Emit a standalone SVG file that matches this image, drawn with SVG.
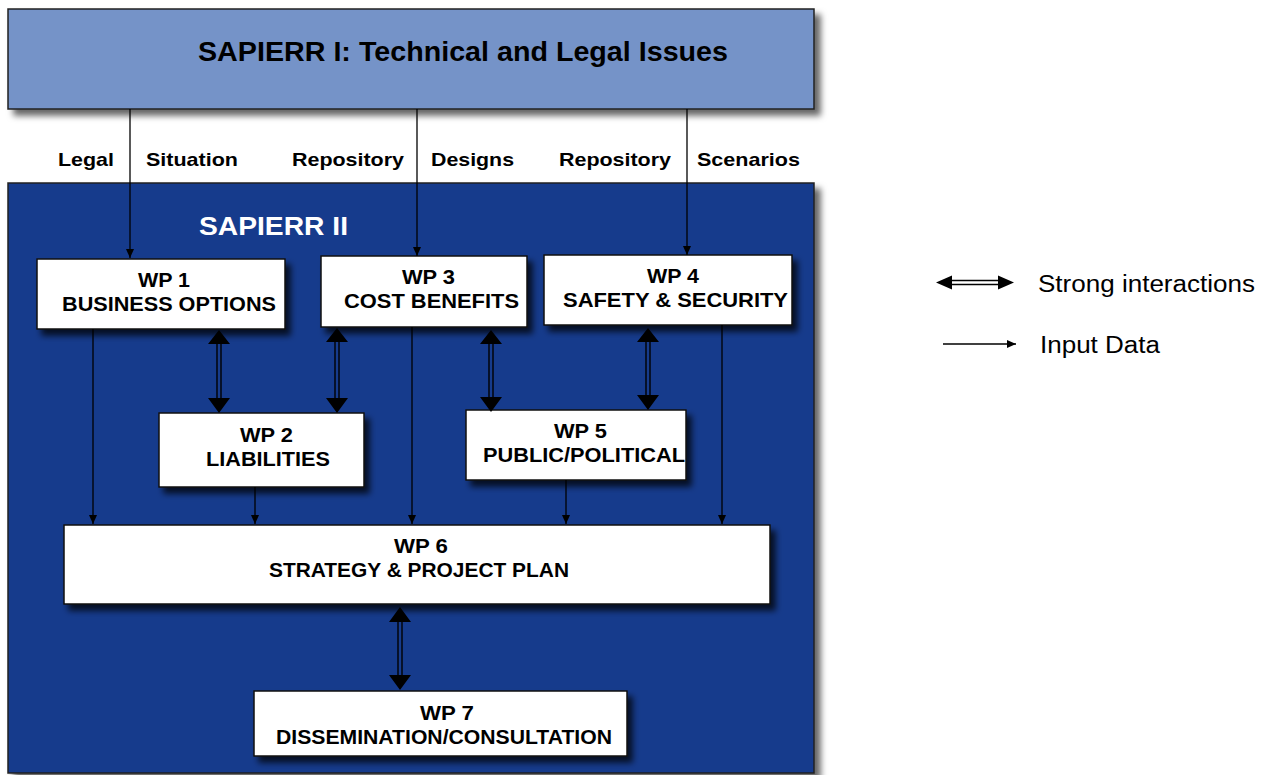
<svg xmlns="http://www.w3.org/2000/svg" width="1268" height="775" viewBox="0 0 1268 775">
<style>
.b{font-family:"Liberation Sans",Arial,sans-serif;font-weight:bold;fill:#000}
.w{fill:#fff;stroke:#111;stroke-width:1.5}
.thin{stroke:#000;stroke-width:1.3;fill:none}
.dbl{stroke:#000;stroke-width:1.4;fill:none}
.lg{font-family:"Liberation Sans",Arial,sans-serif;font-size:23px;fill:#000}
</style>
<defs>
<filter id="sh" x="-10%" y="-20%" width="130%" height="150%">
<feDropShadow dx="5" dy="6" stdDeviation="3" flood-color="#000" flood-opacity="0.75"/>
</filter>
<filter id="sh2" x="-5%" y="-5%" width="110%" height="120%">
<feDropShadow dx="6" dy="6" stdDeviation="3" flood-color="#000" flood-opacity="0.6"/>
</filter>
<marker id="ah" markerWidth="10" markerHeight="10" refX="9" refY="5" orient="auto" markerUnits="userSpaceOnUse">
<path d="M0,1 L9,5 L0,9 Z" fill="#000"/>
</marker>
</defs>
<g id="sapierr1">
<rect x="8" y="9" width="806" height="100" fill="#7593c8" stroke="#222" stroke-width="1.5" filter="url(#sh2)"/>
<text class="b" x="198" y="61" font-size="27" textLength="530" lengthAdjust="spacingAndGlyphs">SAPIERR I: Technical and Legal Issues</text>
</g>
<g id="sapierr2">
<rect x="8" y="183" width="806" height="590" fill="#153a8c" stroke="#222" stroke-width="1.5" filter="url(#sh2)"/>
<text class="b" x="199" y="235" font-size="25" style="fill:#fff" textLength="149" lengthAdjust="spacingAndGlyphs">SAPIERR II</text>
</g>
<g id="labels">
<text class="b" x="58" y="166" font-size="19" textLength="56" lengthAdjust="spacingAndGlyphs">Legal</text>
<text class="b" x="146" y="166" font-size="19" textLength="92" lengthAdjust="spacingAndGlyphs">Situation</text>
<text class="b" x="292" y="166" font-size="19" textLength="112" lengthAdjust="spacingAndGlyphs">Repository</text>
<text class="b" x="431" y="166" font-size="19" textLength="83" lengthAdjust="spacingAndGlyphs">Designs</text>
<text class="b" x="559" y="166" font-size="19" textLength="112" lengthAdjust="spacingAndGlyphs">Repository</text>
<text class="b" x="697" y="166" font-size="19" textLength="103" lengthAdjust="spacingAndGlyphs">Scenarios</text>
</g>
<g id="wp1">
<rect class="w" x="37" y="259" width="248" height="70" filter="url(#sh)"/>
<text class="b" x="138" y="287" font-size="20" textLength="52" lengthAdjust="spacingAndGlyphs">WP 1</text>
<text class="b" x="62" y="311" font-size="20" textLength="214" lengthAdjust="spacingAndGlyphs">BUSINESS OPTIONS</text>
</g>
<g id="wp3">
<rect class="w" x="321" y="256" width="206" height="71" filter="url(#sh)"/>
<text class="b" x="402" y="284" font-size="20" textLength="53" lengthAdjust="spacingAndGlyphs">WP 3</text>
<text class="b" x="344" y="308" font-size="20" textLength="175" lengthAdjust="spacingAndGlyphs">COST BENEFITS</text>
</g>
<g id="wp4">
<rect class="w" x="544" y="255" width="248" height="70" filter="url(#sh)"/>
<text class="b" x="647" y="283" font-size="20" textLength="52" lengthAdjust="spacingAndGlyphs">WP 4</text>
<text class="b" x="563" y="307" font-size="20" textLength="225" lengthAdjust="spacingAndGlyphs">SAFETY &amp; SECURITY</text>
</g>
<g id="wp2">
<rect class="w" x="159" y="413" width="205" height="74" filter="url(#sh)"/>
<text class="b" x="240" y="442" font-size="20" textLength="53" lengthAdjust="spacingAndGlyphs">WP 2</text>
<text class="b" x="206" y="466" font-size="20" textLength="124" lengthAdjust="spacingAndGlyphs">LIABILITIES</text>
</g>
<g id="wp5">
<rect class="w" x="466" y="410" width="220" height="70" filter="url(#sh)"/>
<text class="b" x="554" y="438" font-size="20" textLength="53" lengthAdjust="spacingAndGlyphs">WP 5</text>
<text class="b" x="483" y="462" font-size="20" textLength="202" lengthAdjust="spacingAndGlyphs">PUBLIC/POLITICAL</text>
</g>
<g id="wp6">
<rect class="w" x="64" y="525" width="706" height="79" filter="url(#sh)"/>
<text class="b" x="394" y="553" font-size="20" textLength="54" lengthAdjust="spacingAndGlyphs">WP 6</text>
<text class="b" x="269" y="577" font-size="20" textLength="300" lengthAdjust="spacingAndGlyphs">STRATEGY &amp; PROJECT PLAN</text>
</g>
<g id="wp7">
<rect class="w" x="254" y="691" width="373" height="65" filter="url(#sh)"/>
<text class="b" x="420" y="720" font-size="20" textLength="54" lengthAdjust="spacingAndGlyphs">WP 7</text>
<text class="b" x="276" y="744" font-size="20" textLength="336" lengthAdjust="spacingAndGlyphs">DISSEMINATION/CONSULTATION</text>
</g>
<g id="connectors">
<line class="thin" x1="130" y1="109" x2="130" y2="258" marker-end="url(#ah)"/>
<line class="thin" x1="417" y1="109" x2="417" y2="256" marker-end="url(#ah)"/>
<line class="thin" x1="687" y1="109" x2="687" y2="255" marker-end="url(#ah)"/>
<line class="thin" x1="93" y1="329" x2="93" y2="524" marker-end="url(#ah)"/>
<line class="thin" x1="255" y1="487" x2="255" y2="524" marker-end="url(#ah)"/>
<line class="thin" x1="412" y1="327" x2="412" y2="524" marker-end="url(#ah)"/>
<line class="thin" x1="566" y1="480" x2="566" y2="524" marker-end="url(#ah)"/>
<line class="thin" x1="722" y1="325" x2="722" y2="524" marker-end="url(#ah)"/>
<g id="strong">
<path class="dbl" d="M217,342 V400 M221,342 V400"/>
<path d="M219,330 L208,344 L230,344 Z M219,413 L208,398 L230,398 Z"/>
<path class="dbl" d="M335,340 V400 M339,340 V400"/>
<path d="M337,328 L326,342 L348,342 Z M337,413 L326,398 L348,398 Z"/>
<path class="dbl" d="M489,342 V400 M493,342 V400"/>
<path d="M491,330 L480,344 L502,344 Z M491,412 L480,397 L502,397 Z"/>
<path class="dbl" d="M646,340 V398 M650,340 V398"/>
<path d="M648,328 L637,342 L659,342 Z M648,410 L637,395 L659,395 Z"/>
<path class="dbl" d="M398,620 V678 M402,620 V678"/>
<path d="M400,607 L389,622 L411,622 Z M400,690 L389,675 L411,675 Z"/>
</g>
</g>
<g id="legend">
<path class="dbl" d="M950,280.5 H1000 M950,284.5 H1000"/>
<path d="M936,282.5 L952,275.5 L952,289.5 Z M1014,282.5 L998,275.5 L998,289.5 Z"/>
<text class="lg" x="1038" y="292" textLength="217" lengthAdjust="spacingAndGlyphs">Strong interactions</text>
<line class="thin" x1="943" y1="344" x2="1016" y2="344" marker-end="url(#ah)"/>
<text class="lg" x="1040" y="353" textLength="120" lengthAdjust="spacingAndGlyphs">Input Data</text>
</g>
</svg>
